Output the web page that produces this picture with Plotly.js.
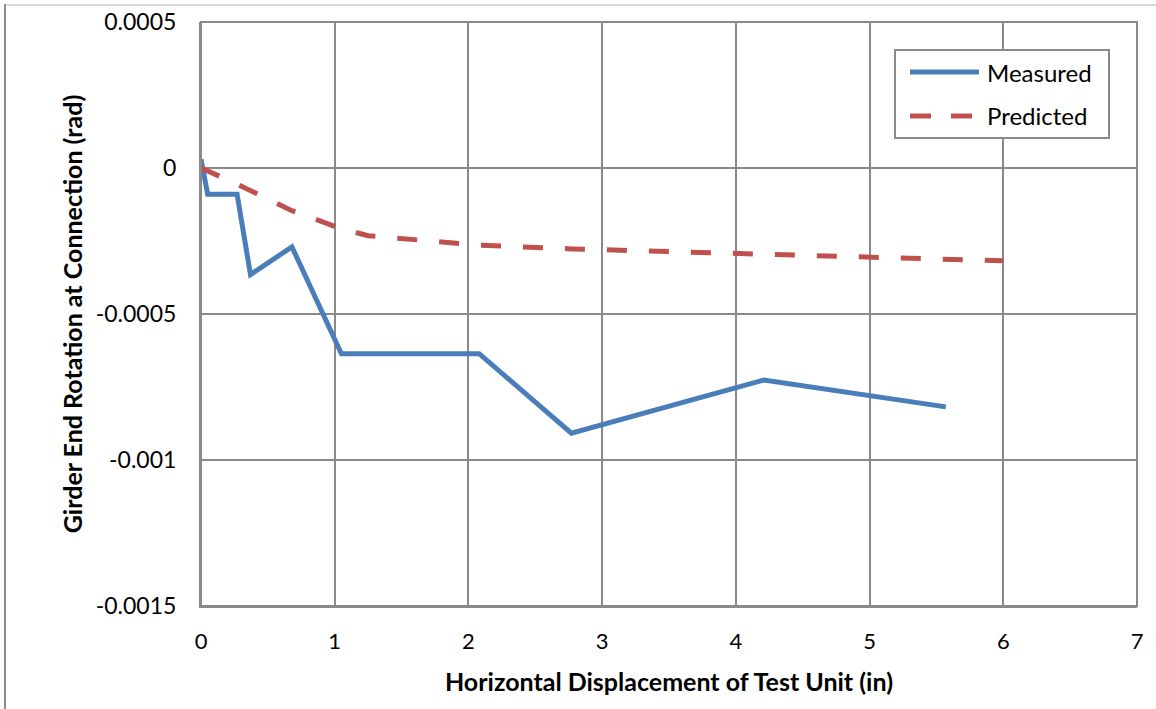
<!DOCTYPE html>
<html>
<head>
<meta charset="utf-8">
<script src="https://cdn.plot.ly/plotly-3.0.1.min.js"></script>
<style>html,body{margin:0;padding:0;background:#fff;}#chart{width:1156px;height:709px;}</style>
</head>
<body>
<div id="chart"></div>
<script>
const measuredX = [0, 0.05, 0.27, 0.37, 0.68, 1.05, 2.08, 2.77, 4.21, 5.57];
const measuredY = [0.00003, -0.00009, -0.00009, -0.000365, -0.00027, -0.000636, -0.000636, -0.000908, -0.000726, -0.000818];
const predictedX = [0, 0.27, 0.68, 1.05, 1.25, 2.08, 2.77, 4.21, 5.57, 6.0];
const predictedY = [0, -0.000055, -0.000146, -0.000208, -0.000232, -0.000264, -0.000277, -0.000296, -0.000312, -0.000318];
const seriesNames = ['Measured', 'Predicted'];
const yTicks = [0.0005, 0, -0.0005, -0.001, -0.0015];
const yTickText = ['0.0005', '0', '-0.0005', '-0.001', '-0.0015'];
const xTicks = [0, 1, 2, 3, 4, 5, 6, 7];

const L = 201, R = 1137, T = 22, B = 606;
const W = R - L, H = B - T;
const px = v => (v - L) / W;
const py = v => (B - v) / H;

const blue = '#4a7ebb', red = '#c0504d';
const traces = [
  {x: measuredX, y: measuredY, name: seriesNames[0], mode: 'lines',
   line: {color: blue, width: 5}},
  {x: predictedX, y: predictedY, name: seriesNames[1], mode: 'lines',
   line: {color: red, width: 5, dash: '20px,22px'}}
];

const font = 'Lato, "Open Sans", "Liberation Sans", sans-serif';
const layout = {
  width: 1156, height: 709,
  margin: {l: L, r: 1156 - R, t: T, b: 709 - B, pad: 0},
  paper_bgcolor: '#fff', plot_bgcolor: '#fff',
  font: {family: font, size: 22, color: '#000'},
  showlegend: false,
  xaxis: {range: [0, 7], tickvals: xTicks, ticktext: xTicks.map(String),
    showgrid: true, gridcolor: '#898989', gridwidth: 2,
    showline: true, linecolor: '#898989', linewidth: 2, mirror: false,
    zeroline: false, ticks: '', ticklabelstandoff: 15,
    tickfont: {family: font, size: 22},
    title: {text: 'Horizontal Displacement of Test Unit (in)', standoff: 20,
      font: {family: font, size: 25, weight: 'bold'}}},
  yaxis: {range: [-0.0015, 0.0005], tickvals: yTicks, ticktext: yTickText,
    showgrid: true, gridcolor: '#898989', gridwidth: 2,
    showline: true, linecolor: '#898989', linewidth: 2,
    zeroline: false, ticks: '', ticklabelstandoff: 18,
    tickfont: {family: font, size: 23},
    title: {text: 'Girder End Rotation at Connection (rad)', standoff: 6,
      font: {family: font, size: 25, weight: 'bold'}}},
  shapes: [
    {type: 'rect', xref: 'paper', yref: 'paper', x0: 0, x1: 1, y0: 0, y1: 1,
     line: {color: '#898989', width: 2}, fillcolor: 'rgba(0,0,0,0)', layer: 'above'},
    {type: 'line', xref: 'paper', yref: 'paper', x0: px(5), x1: px(5), y0: py(4), y1: py(712),
     line: {color: '#8c8c8c', width: 2}},
    {type: 'line', xref: 'paper', yref: 'paper', x0: px(5), x1: px(1160), y0: py(5), y1: py(5),
     line: {color: '#b0b0b0', width: 1}},
    // legend box
    {type: 'rect', xref: 'paper', yref: 'paper', x0: px(895), x1: px(1109), y0: py(50), y1: py(138),
     line: {color: '#898989', width: 2}, fillcolor: '#fff', layer: 'above'},
    {type: 'line', xref: 'paper', yref: 'paper', x0: px(910), x1: px(979), y0: py(72), y1: py(72),
     line: {color: blue, width: 5}, layer: 'above'},
    {type: 'line', xref: 'paper', yref: 'paper', x0: px(910), x1: px(931), y0: py(116), y1: py(116),
     line: {color: red, width: 5}, layer: 'above'},
    {type: 'line', xref: 'paper', yref: 'paper', x0: px(951), x1: px(972), y0: py(116), y1: py(116),
     line: {color: red, width: 5}, layer: 'above'}
  ],
  annotations: [
    {xref: 'paper', yref: 'paper', x: px(985), y: py(72), xanchor: 'left', yanchor: 'middle',
     text: seriesNames[0], showarrow: false, font: {family: font, size: 24, color: '#000'}},
    {xref: 'paper', yref: 'paper', x: px(985), y: py(115), xanchor: 'left', yanchor: 'middle',
     text: seriesNames[1], showarrow: false, font: {family: font, size: 24, color: '#000'}}
  ]
};

Plotly.newPlot('chart', traces, layout, {displayModeBar: false, staticPlot: true});
</script>
</body>
</html>
